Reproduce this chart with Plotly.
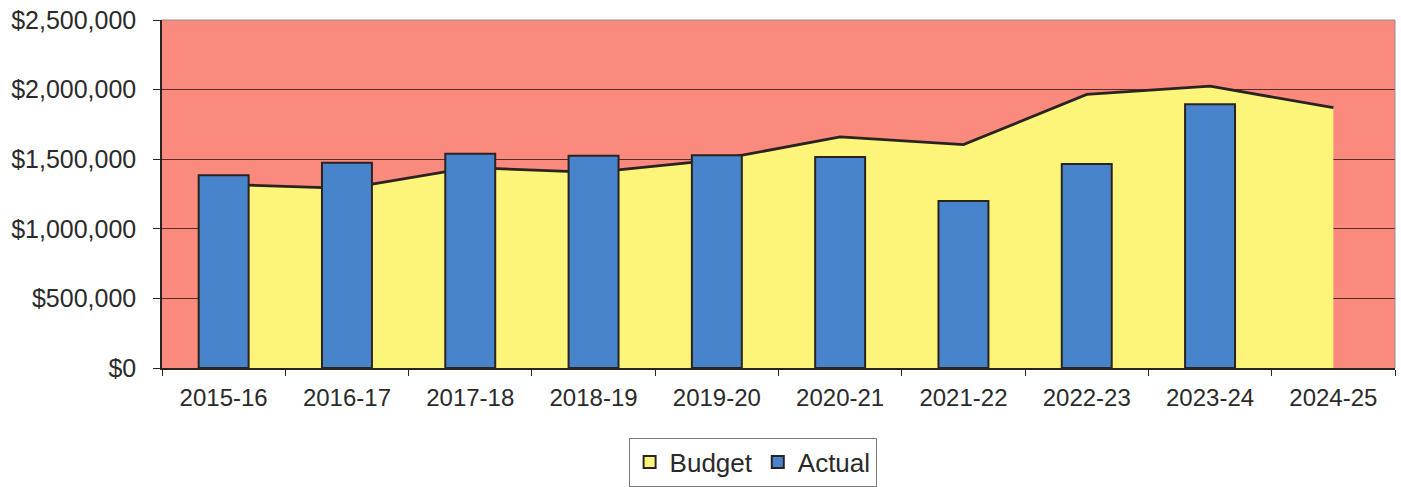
import plotly.graph_objects as go

# Fiscal years on the category axis
years = ["2015-16", "2016-17", "2017-18", "2018-19", "2019-20",
         "2020-21", "2021-22", "2022-23", "2023-24", "2024-25"]

# Budgeted amount per year (area)
budget = [1320000, 1290000, 1440000, 1405000, 1495000,
          1660000, 1605000, 1965000, 2025000, 1870000]

# Actual spending per year (bars); no actual yet for the current year
actual = [1385000, 1475000, 1540000, 1525000, 1528000,
          1515000, 1200000, 1465000, 1895000, None]

# Value axis ticks
y_ticks = [0, 500000, 1000000, 1500000, 2000000, 2500000]
y_tick_labels = ["$0", "$500,000", "$1,000,000", "$1,500,000", "$2,000,000", "$2,500,000"]

FONT = "Liberation Sans, Arial, sans-serif"
TEXT = "#2a2a2a"
EDGE = "#2a2320"
RED_BG = "rgb(250,138,126)"
YELLOW = "rgb(253,244,122)"
BLUE = "rgb(72,132,204)"

fig = go.Figure()

# Budget area, drawn on the base subplot
fig.add_trace(go.Scatter(
    x=years, y=budget, mode="lines", fill="tozeroy",
    fillcolor=YELLOW, line=dict(color=EDGE, width=2.8),
    name="Budget", showlegend=False, hoverinfo="skip",
    xaxis="x", yaxis="y",
))

# Legend entry for the budget series (square swatch)
fig.add_trace(go.Scatter(
    x=[None], y=[None], mode="markers", name="Budget",
    marker=dict(symbol="square", size=12, color=YELLOW,
                line=dict(color=EDGE, width=2)),
    xaxis="x", yaxis="y",
))

# Actual bars, drawn on an overlaid subplot so they sit on top of the area
fig.add_trace(go.Bar(
    x=years, y=actual, name="Actual", width=0.405,
    marker=dict(color=BLUE, line=dict(color=EDGE, width=2)),
    xaxis="x2", yaxis="y2",
))

x_range = [-0.5, len(years) - 0.5]
y_range = [0, 2500000]

fig.update_layout(
    width=1401, height=487,
    margin=dict(l=162, r=6, t=20, b=119, autoexpand=False),
    paper_bgcolor="white",
    plot_bgcolor=RED_BG,
    font=dict(family=FONT, color=TEXT, size=24),
    showlegend=True,
    legend=dict(
        orientation="h", x=0.479, xanchor="center", y=-0.2, yanchor="top",
        bgcolor="white", bordercolor="#7a7a7a", borderwidth=1,
        font=dict(family=FONT, size=26, color=TEXT),
        itemwidth=30,
    ),
    xaxis=dict(
        type="category", categoryorder="array", categoryarray=years,
        range=x_range, tickson="boundaries",
        ticks="outside", ticklen=6, tickcolor=EDGE, tickwidth=1,
        showline=True, linecolor=EDGE, linewidth=1.5,
        showgrid=False, zeroline=False,
        tickfont=dict(size=24, color=TEXT), ticklabelstandoff=7,
    ),
    yaxis=dict(
        range=y_range, tickvals=y_ticks, ticktext=y_tick_labels,
        ticks="outside", ticklen=7, tickcolor=EDGE, tickwidth=1,
        showline=True, linecolor=EDGE, linewidth=1.5,
        showgrid=True, gridcolor="#5a2a26", gridwidth=1,
        zeroline=False,
        tickfont=dict(size=25, color=TEXT), ticklabelstandoff=12,
    ),
    xaxis2=dict(
        type="category", categoryorder="array", categoryarray=years,
        range=x_range, overlaying="x", visible=False,
    ),
    yaxis2=dict(range=y_range, overlaying="y", visible=False),
    shapes=[
        # light frame along the top and right of the plot area
        dict(type="line", xref="paper", yref="paper", x0=0, x1=1, y0=1, y1=1,
             line=dict(color="#8c8c8c", width=1)),
        dict(type="line", xref="paper", yref="paper", x0=1, x1=1, y0=0, y1=1,
             line=dict(color="#8c8c8c", width=1)),
    ],
)

fig.write_html("out.html")
